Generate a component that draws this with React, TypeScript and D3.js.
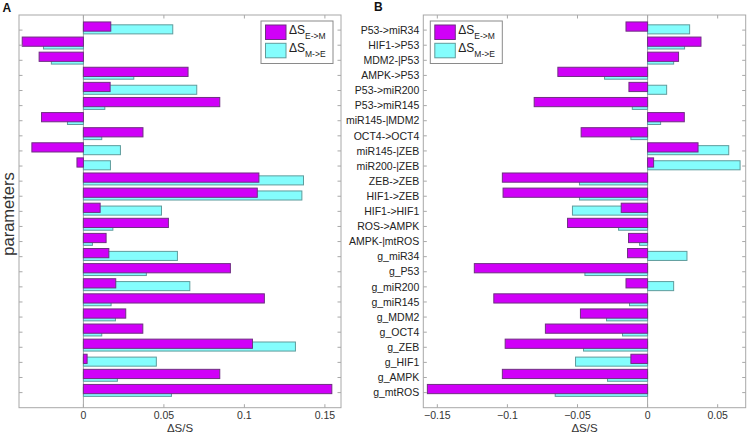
import { useEffect, useRef } from "react";
import * as d3 from "d3";

const parameterNames = [
  "P53->miR34", "HIF1->P53", "MDM2-|P53", "AMPK->P53", "P53->miR200",
  "P53->miR145", "miR145-|MDM2", "OCT4->OCT4", "miR145-|ZEB", "miR200-|ZEB",
  "ZEB->ZEB", "HIF1->ZEB", "HIF1->HIF1", "ROS->AMPK", "AMPK-|mtROS",
  "g_miR34", "g_P53", "g_miR200", "g_miR145", "g_MDM2",
  "g_OCT4", "g_ZEB", "g_HIF1", "g_AMPK", "g_mtROS",
];

// panel A
const aEtoM = [
  0.017, -0.038, -0.0275, 0.065, 0.0166, 0.0847, -0.026, 0.037, -0.032, -0.004,
  0.109, 0.108, 0.0104, 0.0528, 0.0141, 0.0158, 0.0913, 0.0201, 0.1124, 0.0263,
  0.0369, 0.105, 0.0023, 0.0847, 0.1543,
];
const aMtoE = [
  0.0555, -0.0248, -0.0199, 0.0313, 0.0704, 0.0133, -0.0099, 0.0114, 0.023, 0.0168,
  0.1367, 0.1357, 0.0485, 0.0183, 0.0056, 0.0584, 0.0391, 0.0661, 0.0172, 0.0199,
  0.0114, 0.1317, 0.0453, 0.0211, 0.0547,
];

// panel B
const bEtoM = [
  -0.0154, 0.0381, 0.0221, -0.064, -0.0133, -0.0809, 0.0262, -0.0474, 0.036, 0.0043,
  -0.1036, -0.1031, -0.0188, -0.0571, -0.0136, -0.0143, -0.1236, -0.0154, -0.1097, -0.0479,
  -0.0729, -0.1016, -0.0119, -0.1036, -0.1571,
];
const bMtoE = [
  0.03, 0.0264, 0.0186, -0.0307, 0.0136, -0.0109, 0.0093, -0.0119, 0.0579, 0.066,
  -0.0486, -0.0486, -0.0536, -0.0207, -0.0057, 0.0281, -0.0447, 0.0186, -0.0129, -0.0293,
  -0.0179, -0.0457, -0.0514, -0.0286, -0.0659,
];

const aTicks = [0, 0.05, 0.1, 0.15];
const bTicks = [-0.15, -0.1, -0.05, 0, 0.05];

const MAGENTA = "#d000f8";
const CYAN = "#84fdfd";
const AXIS = "#a8a8a8";
const FONT = "'Liberation Sans', Arial, sans-serif";

function drawPanel(svg, opts) {
  const { left, right, top, bottom, domain, ticks, etom, mtoe, showNames, letter, legendX } = opts;

  const x = d3.scaleLinear().domain(domain).range([left, right]);
  const y = d3.scaleLinear().domain([0, parameterNames.length + 1]).range([top, bottom]);

  const g = svg.append("g");

  // zero line
  g.append("line")
    .attr("x1", x(0)).attr("x2", x(0))
    .attr("y1", top).attr("y2", bottom)
    .attr("stroke", AXIS).attr("stroke-width", 1);

  const rows = parameterNames.map((name, i) => ({ name, i, e: etom[i], m: mtoe[i] }));

  // M->E bars behind
  g.selectAll("rect.mtoe")
    .data(rows)
    .enter()
    .append("rect")
    .attr("class", "mtoe")
    .attr("x", d => x(Math.min(0, d.m)))
    .attr("width", d => Math.abs(x(d.m) - x(0)))
    .attr("y", d => y(d.i + 1 - 0.35))
    .attr("height", y(0.6) - y(0))
    .attr("fill", CYAN)
    .attr("stroke", "#5f9c9c")
    .attr("stroke-width", 1);

  // E->M bars on top
  g.selectAll("rect.etom")
    .data(rows)
    .enter()
    .append("rect")
    .attr("class", "etom")
    .attr("x", d => x(Math.min(0, d.e)))
    .attr("width", d => Math.abs(x(d.e) - x(0)))
    .attr("y", d => y(d.i + 1 - 0.54))
    .attr("height", y(0.61) - y(0))
    .attr("fill", MAGENTA)
    .attr("stroke", "#6f2f82")
    .attr("stroke-width", 1);

  // box
  g.append("rect")
    .attr("x", left).attr("y", top)
    .attr("width", right - left).attr("height", bottom - top)
    .attr("fill", "none")
    .attr("stroke", AXIS);

  const tl = 3.5;

  // x ticks, bottom and top, inward
  ticks.forEach(t => {
    g.append("line")
      .attr("x1", x(t)).attr("x2", x(t))
      .attr("y1", bottom).attr("y2", bottom - tl)
      .attr("stroke", AXIS);
    g.append("line")
      .attr("x1", x(t)).attr("x2", x(t))
      .attr("y1", top).attr("y2", top + tl)
      .attr("stroke", AXIS);
  });

  g.selectAll("text.xtick")
    .data(ticks)
    .enter()
    .append("text")
    .attr("class", "xtick")
    .attr("x", d => x(d))
    .attr("y", bottom + 11)
    .attr("text-anchor", "middle")
    .attr("font-family", FONT)
    .attr("font-size", "10.5px")
    .attr("fill", "#333")
    .text(d => d3.format("~g")(d));

  // y ticks, left and right, inward
  rows.forEach(d => {
    g.append("line")
      .attr("x1", left).attr("x2", left + tl)
      .attr("y1", y(d.i + 1)).attr("y2", y(d.i + 1))
      .attr("stroke", AXIS);
    g.append("line")
      .attr("x1", right).attr("x2", right - tl)
      .attr("y1", y(d.i + 1)).attr("y2", y(d.i + 1))
      .attr("stroke", AXIS);
  });

  if (showNames) {
    g.selectAll("text.ylab")
      .data(rows)
      .enter()
      .append("text")
      .attr("class", "ylab")
      .attr("x", left - 4)
      .attr("y", d => y(d.i + 1))
      .attr("dy", "0.35em")
      .attr("text-anchor", "end")
      .attr("font-family", FONT)
      .attr("font-size", "10.5px")
      .attr("fill", "#222")
      .text(d => d.name);
  }

  // x label
  g.append("text")
    .attr("x", (left + right) / 2)
    .attr("y", bottom + 24)
    .attr("text-anchor", "middle")
    .attr("font-family", FONT)
    .attr("font-size", "11.5px")
    .attr("fill", "#333")
    .text("\u0394S/S");

  // panel letter
  g.append("text")
    .attr("x", letter[0])
    .attr("y", letter[1])
    .attr("font-family", FONT)
    .attr("font-size", "12px")
    .attr("font-weight", "bold")
    .attr("fill", "#111")
    .text(letter[2]);

  // legend
  const legend = g.append("g").attr("transform", `translate(${legendX}, 21)`);
  legend.append("rect")
    .attr("width", 72).attr("height", 42.5)
    .attr("fill", "white")
    .attr("stroke", "#8a8a8a");

  const entries = [
    { fill: MAGENTA, stroke: "#6f2f82", sub: "E->M", y0: 4 },
    { fill: CYAN, stroke: "#5f9c9c", sub: "M->E", y0: 22.3 },
  ];
  entries.forEach(en => {
    legend.append("rect")
      .attr("x", 4.5).attr("y", en.y0)
      .attr("width", 20.5).attr("height", 14.5)
      .attr("fill", en.fill)
      .attr("stroke", en.stroke);
    const t = legend.append("text")
      .attr("x", 28)
      .attr("y", en.y0 + 8.5)
      .attr("font-family", FONT)
      .attr("font-size", "12px")
      .attr("fill", "#222");
    t.append("tspan").text("\u0394S");
    t.append("tspan")
      .attr("dy", 5.5)
      .attr("font-size", "8.5px")
      .text(en.sub);
  });
}

function App() {
  const svgRef = useRef(null);

  useEffect(() => {
    const width = 747;
    const height = 437;

    const svg = d3.select(svgRef.current);
    svg.selectAll("*").remove();
    svg.attr("width", width).attr("height", height);

    svg.append("rect").attr("width", width).attr("height", height).attr("fill", "white");

    drawPanel(svg, {
      left: 19, right: 341, top: 15, bottom: 407.7,
      domain: [-0.04, 0.16],
      ticks: aTicks,
      etom: aEtoM, mtoe: aMtoE,
      showNames: false,
      letter: [2.5, 11.7, "A"],
      legendX: 261,
    });

    drawPanel(svg, {
      left: 423.3, right: 745.7, top: 15, bottom: 407.7,
      domain: [-0.16, 0.07],
      ticks: bTicks,
      etom: bEtoM, mtoe: bMtoE,
      showNames: true,
      letter: [374, 11.2, "B"],
      legendX: 430.3,
    });

    // y axis title for panel A
    svg.append("text")
      .attr("transform", "translate(14, 214) rotate(-90)")
      .attr("text-anchor", "middle")
      .attr("font-family", FONT)
      .attr("font-size", "16.5px")
      .attr("fill", "#333")
      .text("parameters");
  }, []);

  return (
    <div style={{ position: "absolute", left: 0, top: 0 }}>
      <svg ref={svgRef} style={{ display: "block" }}></svg>
    </div>
  );
}

export default App;
